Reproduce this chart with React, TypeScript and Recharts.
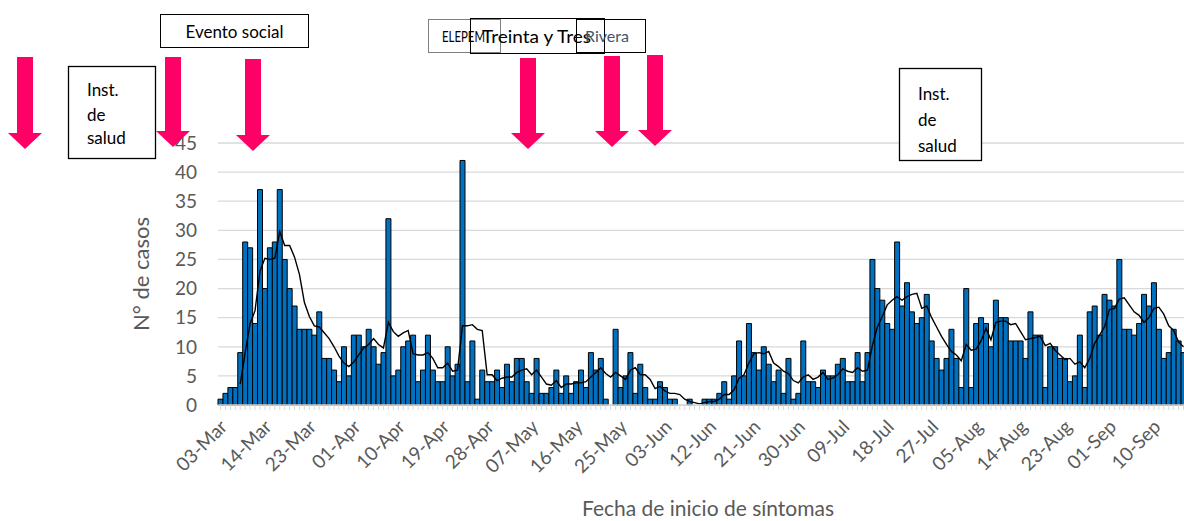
import { ComposedChart, Bar, Line, XAxis, YAxis, CartesianGrid } from 'recharts'

// daily cases, one per category (03-Mar ... mid-Sep)
const cases = [
  1, 2, 3, 3, 9, 28, 27, 14, 37, 20,
  27, 28, 37, 25, 20, 17, 13, 13, 13, 12,
  16, 8, 8, 6, 4, 10, 5, 12, 12, 10,
  13, 10, 7, 9, 32, 5, 6, 10, 11, 12,
  4, 6, 12, 6, 4, 4, 10, 5, 7, 42,
  4, 11, 1, 6, 4, 4, 6, 3, 7, 4,
  8, 8, 4, 2, 8, 2, 2, 3, 6, 2,
  5, 2, 4, 6, 3, 9, 6, 8, 1, 0,
  13, 3, 5, 9, 2, 7, 3, 1, 1, 4,
  3, 1, 1, 0, 0, 1, 0, 0, 1, 1,
  1, 2, 4, 1, 5, 11, 5, 14, 9, 6,
  10, 7, 4, 6, 2, 8, 1, 2, 11, 4,
  4, 3, 6, 5, 5, 7, 8, 4, 4, 9,
  4, 9, 25, 20, 18, 14, 13, 28, 17, 21,
  16, 14, 15, 19, 11, 8, 6, 8, 13, 8,
  3, 20, 3, 14, 15, 14, 10, 18, 15, 15,
  11, 11, 11, 8, 16, 12, 12, 3, 10, 10,
  8, 8, 4, 5, 12, 3, 16, 17, 12, 19,
  18, 17, 25, 13, 13, 12, 14, 19, 17, 21,
  13, 8, 9, 13, 11, 9,
]

// 5-day moving average trend line, as drawn
const movingAvg = [
  null, null, null, null, 3.6, 9.0, 14.0, 16.2, 23.0, 25.2,
  25.0, 25.2, 29.8, 27.4, 27.4, 25.4, 22.4, 17.6, 15.2, 13.6,
  13.4, 12.4, 11.4, 10.0, 8.4, 7.2, 6.6, 7.4, 8.6, 9.8,
  10.4, 11.4, 10.4, 9.8, 14.2, 12.6, 11.8, 12.4, 12.8, 8.8,
  8.6, 8.6, 9.0, 8.0, 6.4, 6.4, 7.2, 5.8, 6.0, 13.6,
  13.6, 13.8, 13.0, 12.8, 5.2, 5.2, 4.2, 4.6, 4.8, 4.8,
  5.6, 6.0, 6.2, 5.2, 6.0, 4.8, 3.6, 3.4, 4.2, 3.0,
  3.6, 3.6, 3.8, 3.8, 4.0, 4.8, 5.6, 6.4, 5.4, 4.8,
  5.6, 5.0, 4.4, 6.0, 6.4, 5.2, 5.2, 4.4, 2.8, 3.2,
  2.4, 2.0, 2.0, 1.8, 1.0, 0.6, 0.4, 0.2, 0.4, 0.6,
  0.6, 1.0, 1.8, 1.8, 2.6, 4.6, 5.2, 7.2, 8.8, 9.0,
  8.8, 9.2, 7.2, 6.6, 5.8, 5.4, 4.2, 3.8, 4.8, 5.2,
  4.4, 4.8, 5.6, 4.4, 4.6, 5.2, 6.2, 5.8, 5.6, 6.4,
  5.8, 6.0, 10.2, 13.4, 15.2, 17.2, 18.0, 18.6, 18.0, 18.6,
  19.0, 19.2, 16.6, 17.0, 15.0, 13.4, 11.8, 10.4, 9.2, 8.6,
  7.6, 10.4, 9.4, 9.6, 11.0, 13.2, 11.2, 14.2, 14.4, 14.4,
  13.8, 14.0, 12.6, 11.2, 11.4, 11.6, 11.8, 10.2, 10.6, 9.4,
  8.6, 7.8, 8.0, 7.0, 7.4, 6.4, 8.0, 10.6, 12.0, 13.4,
  16.4, 16.6, 18.2, 18.4, 17.2, 16.0, 15.4, 14.2, 15.0, 16.6,
  16.8, 15.6, 13.6, 12.8, 10.8, 10.0,
]

// one label every 9 categories
const tickLabels = [
  '03-Mar', '14-Mar', '23-Mar', '01-Apr', '10-Apr', '19-Apr', '28-Apr', '07-May',
  '16-May', '25-May', '03-Jun', '12-Jun', '21-Jun', '30-Jun', '09-Jul', '18-Jul',
  '27-Jul', '05-Aug', '14-Aug', '23-Aug', '01-Sep', '10-Sep',
]
const LABEL_STEP = 9

const yTicks = [0, 5, 10, 15, 20, 25, 30, 35, 40, 45]

// annotations on top of the chart
const arrows = [
  { x: 25, top: 57, tip: 149 },
  { x: 173, top: 57, tip: 147 },
  { x: 253, top: 59, tip: 151 },
  { x: 528, top: 58, tip: 149 },
  { x: 612, top: 56, tip: 147 },
  { x: 655, top: 55, tip: 146 },
]

const rows = cases.map((c, i) => ({ idx: i, cases: c, ma: movingAvg[i] }))

const GREY = '#595959'
const PINK = '#FF0066'

function DateTick(props: any) {
  const { x, y, payload } = props
  const i = Number(payload.value)
  if (i % LABEL_STEP !== 0) return null
  const label = tickLabels[i / LABEL_STEP]
  if (!label) return null
  const tx = x + 8
  const ty = y + 16
  return (
    <text x={tx} y={ty} transform={`rotate(-45, ${tx}, ${ty})`} textAnchor="end" fill={GREY} fontSize={19}>
      {label}
    </text>
  )
}

function Arrow({ x, top, tip }: { x: number; top: number; tip: number }) {
  const head = tip - 16
  const pts = [
    [x - 8, top], [x + 8, top], [x + 8, head], [x + 17, head],
    [x, tip], [x - 17, head], [x - 8, head],
  ].map(p => p.join(',')).join(' ')
  return <polygon points={pts} fill={PINK} />
}

function Annotations() {
  return (
    <svg width={1184} height={521} style={{ position: 'absolute', left: 0, top: 0, pointerEvents: 'none' }}>
      {/* axis titles */}
      <text x={708} y={516} textAnchor="middle" fill={GREY} fontSize={21}>Fecha de inicio de síntomas</text>
      <text x={149} y={274} transform="rotate(-90, 149, 274)" textAnchor="middle" fill={GREY} fontSize={22}>N° de casos</text>

      {/* left box */}
      <rect x={68.5} y={66.5} width={87} height={92} fill="#fff" stroke="#000" strokeWidth={1.3} />
      <text x={87} y={96} fontSize={17} fill="#000">Inst.</text>
      <text x={87} y={121} fontSize={17} fill="#000">de</text>
      <text x={87} y={144} fontSize={17} fill="#000">salud</text>

      <rect x={160.5} y={14.5} width={148} height={33} fill="#fff" stroke="#000" strokeWidth={1} />
      <text x={234.5} y={38} textAnchor="middle" fontSize={17} fill="#000">Evento social</text>

      {/* overlapping boxes */}
      <rect x={428.5} y={19.5} width={72} height={33} fill="none" stroke="#7f7f7f" strokeWidth={1} />
      <text x={442} y={42} fontSize={15} fill="#000" textLength={43} lengthAdjust="spacingAndGlyphs">ELEPEM</text>
      <rect x={470.5} y={18.5} width={134} height={35} fill="none" stroke="#000" strokeWidth={1} />
      <text x={482} y={43} fontSize={18} fill="#000" textLength={109} lengthAdjust="spacingAndGlyphs">Treinta y Tres</text>
      <rect x={576.5} y={19.5} width={69} height={33} fill="none" stroke="#000" strokeWidth={1} />
      <text x={585} y={42} fontSize={16} fill="#44546A">Rivera</text>

      {/* right box */}
      <rect x={899.5} y={68.5} width={82} height={92} fill="#fff" stroke="#000" strokeWidth={1.3} />
      <text x={918} y={100} fontSize={17} fill="#000">Inst.</text>
      <text x={918} y={126} fontSize={17} fill="#000">de</text>
      <text x={918} y={152} fontSize={17} fill="#000">salud</text>

      {arrows.map((a, i) => <Arrow key={i} {...a} />)}
    </svg>
  )
}

export default function App() {
  return (
    <div style={{
      position: 'absolute', left: 0, top: 0, width: 1184, height: 521,
      overflow: 'hidden', background: '#fff', fontFamily: 'Lato, "Open Sans", sans-serif',
    }}>
      <ComposedChart
        width={1186}
        height={521}
        data={rows}
        margin={{ top: 143, right: 0, bottom: 0, left: 0 }}
        barCategoryGap={0}
        barGap={0}
      >
        <CartesianGrid vertical={false} stroke="#d9d9d9" strokeWidth={1.3} />
        <XAxis
          dataKey="idx"
          interval={0}
          height={116}
          tickSize={5}
          tickLine={{ stroke: '#d9d9d9' }}
          axisLine={{ stroke: '#d9d9d9', strokeWidth: 1.3 }}
          tick={<DateTick />}
        />
        <YAxis
          width={218}
          domain={[0, 45]}
          ticks={yTicks}
          axisLine={false}
          tickLine={false}
          tickSize={0}
          tickMargin={21}
          tick={{ fill: GREY, fontSize: 19 }}
        />
        <Bar dataKey="cases" fill="#0070C0" stroke="#000" strokeWidth={1} isAnimationActive={false} />
        <Line dataKey="ma" type="linear" stroke="#000" strokeWidth={1.4} dot={false} isAnimationActive={false} />
      </ComposedChart>
      <Annotations />
    </div>
  )
}
